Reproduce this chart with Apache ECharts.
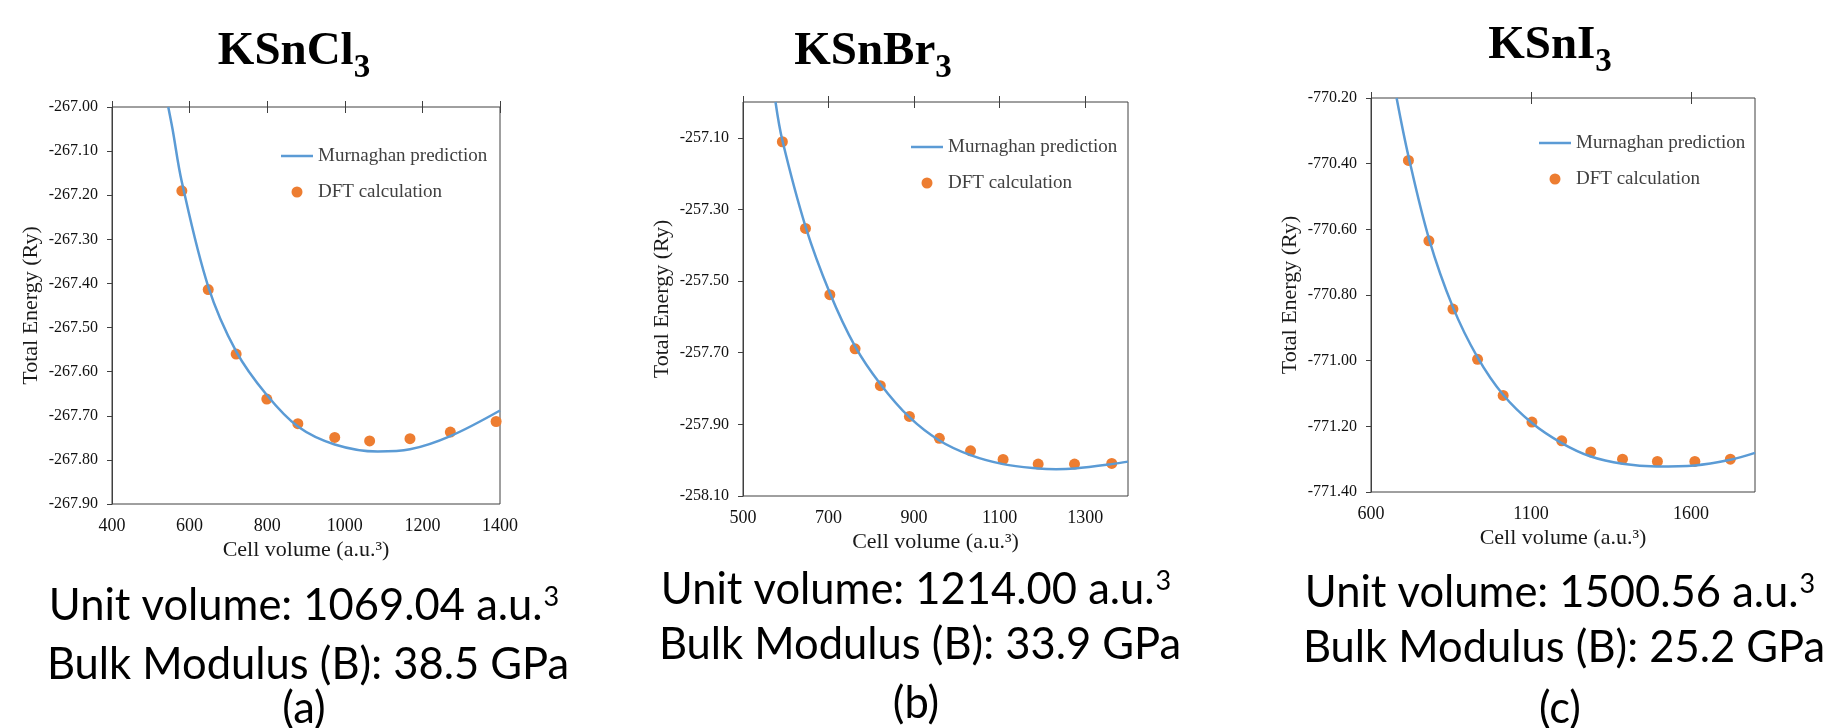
<!DOCTYPE html>
<html>
<head>
<meta charset="utf-8">
<title>Murnaghan fits</title>
<script src="https://cdn.jsdelivr.net/npm/echarts@6.0.0/dist/echarts.min.js"></script>
<style>
html, body { margin: 0; padding: 0; background: #fff; }
#main { width: 1829px; height: 728px; }
</style>
</head>
<body>
<div id="main"></div>
<script>
// KSnCl3
var clFitV = [545, 556, 580, 648, 720, 799, 880, 974, 1085, 1168, 1272, 1400];
var clFitE = [-267.000, -267.050, -267.170, -267.407, -267.554, -267.653, -267.725, -267.765, -267.781, -267.776, -267.746, -267.688];
var clDftV = [580, 648, 720, 799, 879, 974, 1064, 1168, 1272, 1390];
var clDftE = [-267.190, -267.414, -267.560, -267.662, -267.718, -267.749, -267.757, -267.752, -267.737, -267.713];
var clXTicks = [400, 600, 800, 1000, 1200, 1400];
var clYTicks = [-267.9, -267.8, -267.7, -267.6, -267.5, -267.4, -267.3, -267.2, -267.1, -267.0];

// KSnBr3
var brFitV = [576, 592, 646, 703, 762, 821, 889, 959, 1032, 1108, 1190, 1232, 1275, 1362, 1400];
var brFitE = [-257.000, -257.107, -257.347, -257.533, -257.682, -257.787, -257.880, -257.945, -257.986, -258.011, -258.023, -258.025, -258.023, -258.011, -258.004];
var brDftV = [592, 646, 703, 762, 821, 889, 959, 1032, 1108, 1190, 1275, 1362];
var brDftE = [-257.111, -257.353, -257.538, -257.689, -257.792, -257.878, -257.939, -257.974, -257.998, -258.011, -258.011, -258.009];
var brXTicks = [500, 700, 900, 1100, 1300];
var brYTicks = [-258.1, -257.9, -257.7, -257.5, -257.3, -257.1];

// KSnI3
var iFitV = [680, 717, 781, 856, 933, 1013, 1103, 1196, 1287, 1386, 1492, 1612, 1723, 1800];
var iFitE = [-770.200, -770.377, -770.628, -770.837, -770.990, -771.104, -771.190, -771.251, -771.292, -771.314, -771.322, -771.319, -771.302, -771.281];
var iDftV = [717, 781, 856, 933, 1013, 1103, 1196, 1287, 1386, 1495, 1612, 1723];
var iDftE = [-770.390, -770.635, -770.843, -770.996, -771.106, -771.187, -771.244, -771.278, -771.300, -771.307, -771.307, -771.300];
var iXTicks = [600, 1100, 1600];
var iYTicks = [-771.4, -771.2, -771.0, -770.8, -770.6, -770.4, -770.2];

var titles = ['KSnCl', 'KSnBr', 'KSnI'];
var unitVolumes = ['1069.04', '1214.00', '1500.56'];
var bulkModuli = ['38.5', '33.9', '25.2'];
var panelTags = ['(a)', '(b)', '(c)'];

var SERIF = '"Liberation Serif", "Times New Roman", serif';
var SANS = 'Lato, "Open Sans", sans-serif';
var AXIS_COLOR = '#404040';

function zip(xs, ys) {
	var out = [];
	for (var i = 0; i < xs.length; i++) {
		out.push([xs[i], ys[i]]);
	}
	return out;
}

var panels = [
	{ grid: { left: 112, top: 107, width: 388, height: 397 },
	  xMin: 400, xMax: 1400, yMin: -267.9, yMax: -267.0,
	  xTicks: clXTicks, yTicks: clYTicks,
	  fit: zip(clFitV, clFitE), dft: zip(clDftV, clDftE),
	  legend: [276, 141], title: [294, 52], text: [304, 606, 665, 709] },
	{ grid: { left: 743, top: 102, width: 385, height: 394 },
	  xMin: 500, xMax: 1400, yMin: -258.1, yMax: -257.0,
	  xTicks: brXTicks, yTicks: brYTicks,
	  fit: zip(brFitV, brFitE), dft: zip(brDftV, brDftE),
	  legend: [906, 132], title: [873, 52], text: [916, 590, 645, 704] },
	{ grid: { left: 1371, top: 98, width: 384, height: 394 },
	  xMin: 600, xMax: 1800, yMin: -771.4, yMax: -770.2,
	  xTicks: iXTicks, yTicks: iYTicks,
	  fit: zip(iFitV, iFitE), dft: zip(iDftV, iDftE),
	  legend: [1534, 128], title: [1550, 46], text: [1560, 593, 648, 709] }
];

var option = {
	animation: false,
	backgroundColor: '#fff',
	grid: [], xAxis: [], yAxis: [], series: [], legend: [], graphic: []
};

panels.forEach(function(p, i) {
	option.grid.push({
		left: p.grid.left, top: p.grid.top, width: p.grid.width, height: p.grid.height,
		show: true, borderColor: AXIS_COLOR, borderWidth: 1,
		containLabel: false, outerBoundsMode: 'none'
	});
	// bottom axis: labels and name only
	option.xAxis.push({
		type: 'value', gridIndex: i, position: 'bottom',
		min: p.xMin, max: p.xMax,
		name: 'Cell volume (a.u.\u00b3)', nameLocation: 'middle', nameGap: 35,
		nameMoveOverlap: false,
		nameTextStyle: { fontFamily: SERIF, fontSize: 22, color: '#1a1a1a' },
		axisLine: { show: false }, axisTick: { show: false }, splitLine: { show: false },
		axisLabel: {
			customValues: p.xTicks, margin: 13,
			fontFamily: SERIF, fontSize: 18, color: '#111',
			formatter: function(v) { return String(v); }
		}
	});
	// top axis: crossing tick marks
	option.xAxis.push({
		type: 'value', gridIndex: i, position: 'top', offset: -6,
		min: p.xMin, max: p.xMax,
		axisLine: { show: false }, axisLabel: { show: false }, splitLine: { show: false },
		axisTick: { show: true, customValues: p.xTicks, length: 12, lineStyle: { color: AXIS_COLOR, width: 1 } }
	});
	option.yAxis.push({
		type: 'value', gridIndex: i, position: 'left',
		min: p.yMin, max: p.yMax,
		name: 'Total Energy (Ry)', nameLocation: 'middle', nameGap: 70,
		nameMoveOverlap: false,
		nameTextStyle: { fontFamily: SERIF, fontSize: 22, color: '#1a1a1a' },
		splitLine: { show: false },
		axisLine: { show: true, lineStyle: { color: AXIS_COLOR, width: 1 } },
		axisTick: { show: true, customValues: p.yTicks, length: 5, lineStyle: { color: AXIS_COLOR, width: 1 } },
		axisLabel: {
			customValues: p.yTicks, margin: 14,
			fontFamily: SERIF, fontSize: 16, color: '#111',
			formatter: function(v) { return v.toFixed(2); }
		}
	});
	option.series.push({
		name: 'Murnaghan prediction', type: 'line',
		xAxisIndex: 2 * i, yAxisIndex: i,
		data: p.fit, smooth: 0.35,
		symbol: 'none', showSymbol: false, clip: true,
		lineStyle: { color: '#5B9BD5', width: 2.5 },
		itemStyle: { color: '#5B9BD5' }
	});
	option.series.push({
		name: 'DFT calculation', type: 'scatter',
		xAxisIndex: 2 * i, yAxisIndex: i,
		data: p.dft, symbol: 'circle', symbolSize: 11,
		itemStyle: { color: '#ED7D31', opacity: 1 }
	});
	option.legend.push({
		left: p.legend[0], top: p.legend[1], orient: 'vertical',
		itemWidth: 32, itemHeight: 11, itemGap: 16,
		selectedMode: false,
		data: [
			{ name: 'Murnaghan prediction', icon: 'path://M0,0L32,0L32,2.5L0,2.5Z' },
			{ name: 'DFT calculation', icon: 'circle' }
		],
		textStyle: { fontFamily: SERIF, fontSize: 19, lineHeight: 20, color: '#404040' }
	});
	// panel title with subscript
	option.graphic.push({
		type: 'text', x: p.title[0], y: p.title[1], silent: true,
		style: {
			text: titles[i] + '{s|3}',
			font: 'bold 47px ' + SERIF,
			fill: '#000', align: 'center', verticalAlign: 'middle',
			rich: { s: { font: 'bold 33px ' + SERIF, fill: '#000', padding: [33, 0, 0, 0] } }
		}
	});
	option.graphic.push({
		type: 'text', x: p.text[0], y: p.text[1], silent: true,
		style: {
			text: 'Unit volume: ' + unitVolumes[i] + ' a.u.{sup|3}',
			font: '43.5px ' + SANS, fill: '#000', align: 'center', verticalAlign: 'middle',
			rich: { sup: { font: '27px ' + SANS, fill: '#000', padding: [0, 0, 18, 1] } }
		}
	});
	option.graphic.push({
		type: 'text', x: p.text[0] + 4, y: p.text[2], silent: true,
		style: {
			text: 'Bulk Modulus (B): ' + bulkModuli[i] + ' GPa',
			font: '43.5px ' + SANS, fill: '#000', align: 'center', verticalAlign: 'middle'
		}
	});
	option.graphic.push({
		type: 'text', x: p.text[0], y: p.text[3], silent: true,
		style: {
			text: panelTags[i],
			font: '43.5px ' + SANS, fill: '#000', align: 'center', verticalAlign: 'middle'
		}
	});
});

var myChart = echarts.init(document.getElementById('main'), null, { renderer: 'canvas' });
myChart.setOption(option, true);

window.onresize = function() {
	myChart.resize();
};
</script>
</body>
</html>
